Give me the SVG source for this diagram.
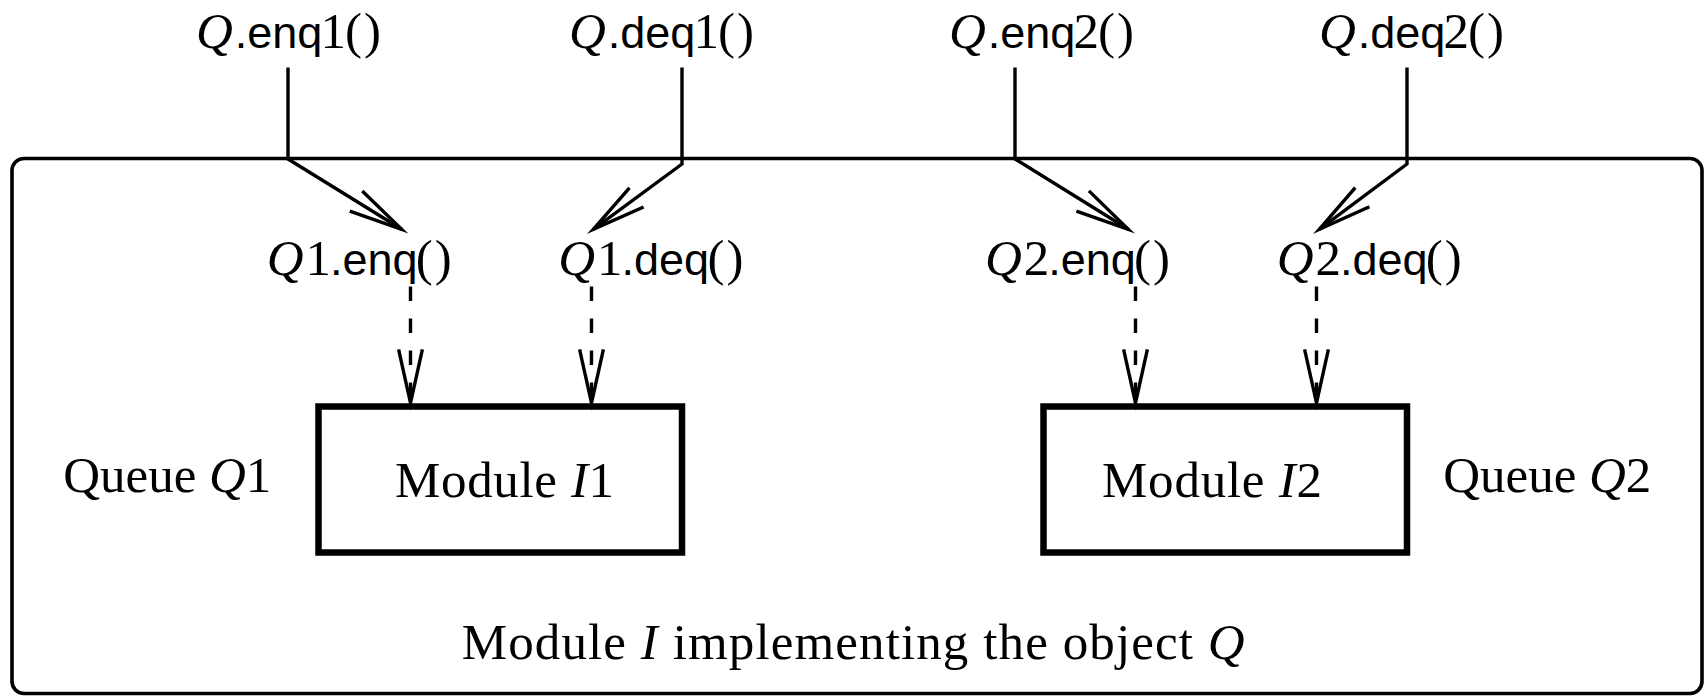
<svg xmlns="http://www.w3.org/2000/svg" width="1706" height="700" viewBox="0 0 1706 700">
  <style>
    .rm { font-family: "Liberation Serif", "Times New Roman", serif; font-size: 51px; fill: #000; }
    .it { font-style: italic; }
    .sf { font-family: "Liberation Sans", Arial, sans-serif; font-size: 45px; }
    .line { fill: none; stroke: #000; stroke-width: 3.4; stroke-linejoin: miter; }
    .dash { fill: none; stroke: #000; stroke-width: 3.4; stroke-dasharray: 14.5 17.5; }
    .box { fill: none; stroke: #000; stroke-width: 6.5; }
    .frame { fill: none; stroke: #000; stroke-width: 3.6; }
  </style>
  <defs>
    <!-- open "to"-style arrowhead, tip at the end of the path -->
    <marker id="open" markerUnits="userSpaceOnUse" markerWidth="80" markerHeight="40"
            viewBox="-60 -20 70 40" refX="0" refY="0" orient="auto" overflow="visible">
      <path d="M -53.7 -11.9 L 0 0 L -53.7 11.9" fill="none" stroke="#000" stroke-width="3.4"
            stroke-dasharray="none" stroke-linejoin="miter" stroke-miterlimit="12"/>
    </marker>
  </defs>

  <!-- outer module I -->
  <g id="module-i">
    <rect class="frame" x="12" y="158.5" width="1690" height="535" rx="12" ry="12"/>
    <text class="rm" x="461.7" y="659" textLength="783">Module <tspan class="it">I</tspan> implementing the object <tspan class="it">Q</tspan></text>
  </g>

  <!-- sub-module I1 -->
  <g id="module-i1">
    <rect class="box" x="318.5" y="406.5" width="363.5" height="146"/>
    <text class="rm" x="395" y="497" textLength="219">Module <tspan class="it">I</tspan>1</text>
  </g>

  <!-- sub-module I2 -->
  <g id="module-i2">
    <rect class="box" x="1043.5" y="406.5" width="363.5" height="146"/>
    <text class="rm" x="1102" y="497" textLength="220">Module <tspan class="it">I</tspan>2</text>
  </g>

  <g id="queue-q1">
    <text class="rm" x="63.3" y="491.5" textLength="208">Queue <tspan class="it">Q</tspan>1</text>
  </g>
  <g id="queue-q2">
    <text class="rm" x="1443.3" y="491.5" textLength="208">Queue <tspan class="it">Q</tspan>2</text>
  </g>

  <!-- external operations of Q -->
  <g id="op-enq1">
    <text class="rm" y="48"><tspan class="it" x="196">Q</tspan><tspan class="sf" x="234.7">.enq</tspan><tspan x="320.6">1</tspan><tspan x="345">(</tspan><tspan x="364">)</tspan></text>
  </g>
  <g id="op-deq1">
    <text class="rm" y="48"><tspan class="it" x="569">Q</tspan><tspan class="sf" x="607.7">.deq</tspan><tspan x="693.6">1</tspan><tspan x="718">(</tspan><tspan x="737">)</tspan></text>
  </g>
  <g id="op-enq2">
    <text class="rm" y="48"><tspan class="it" x="949">Q</tspan><tspan class="sf" x="987.7">.enq</tspan><tspan x="1073.6">2</tspan><tspan x="1098">(</tspan><tspan x="1117">)</tspan></text>
  </g>
  <g id="op-deq2">
    <text class="rm" y="48"><tspan class="it" x="1319">Q</tspan><tspan class="sf" x="1357.7">.deq</tspan><tspan x="1443.6">2</tspan><tspan x="1468">(</tspan><tspan x="1487">)</tspan></text>
  </g>

  <!-- internal operations of Q1 and Q2 -->
  <g id="op-q1-enq">
    <text class="rm" y="275"><tspan class="it" x="266.7">Q</tspan><tspan x="305.4">1</tspan><tspan class="sf" x="329.9">.enq</tspan><tspan x="415.8">(</tspan><tspan x="434.8">)</tspan></text>
  </g>
  <g id="op-q1-deq">
    <text class="rm" y="275"><tspan class="it" x="558.3">Q</tspan><tspan x="597">1</tspan><tspan class="sf" x="621.5">.deq</tspan><tspan x="707.4">(</tspan><tspan x="726.4">)</tspan></text>
  </g>
  <g id="op-q2-enq">
    <text class="rm" y="275"><tspan class="it" x="985">Q</tspan><tspan x="1023.7">2</tspan><tspan class="sf" x="1048.2">.enq</tspan><tspan x="1134.1">(</tspan><tspan x="1153.1">)</tspan></text>
  </g>
  <g id="op-q2-deq">
    <text class="rm" y="275"><tspan class="it" x="1276.7">Q</tspan><tspan x="1315.4">2</tspan><tspan class="sf" x="1339.9">.deq</tspan><tspan x="1425.8">(</tspan><tspan x="1444.8">)</tspan></text>
  </g>

  <!-- connectors -->
  <g id="connectors">
    <path class="line" d="M 288 67.5 V 159 L 401.7 229.3" marker-end="url(#open)"/>
    <path class="line" d="M 682 67.5 V 164 L 593.3 229.3" marker-end="url(#open)"/>
    <path class="line" d="M 1015 67.5 V 159 L 1128.3 229.3" marker-end="url(#open)"/>
    <path class="line" d="M 1407 67.5 V 164 L 1319.3 229.3" marker-end="url(#open)"/>

    <path class="dash" d="M 410.5 286.5 V 403" marker-end="url(#open)"/>
    <path class="dash" d="M 591.5 286.5 V 403" marker-end="url(#open)"/>
    <path class="dash" d="M 1135.5 286.5 V 403" marker-end="url(#open)"/>
    <path class="dash" d="M 1316.5 286.5 V 403" marker-end="url(#open)"/>
  </g>
</svg>
